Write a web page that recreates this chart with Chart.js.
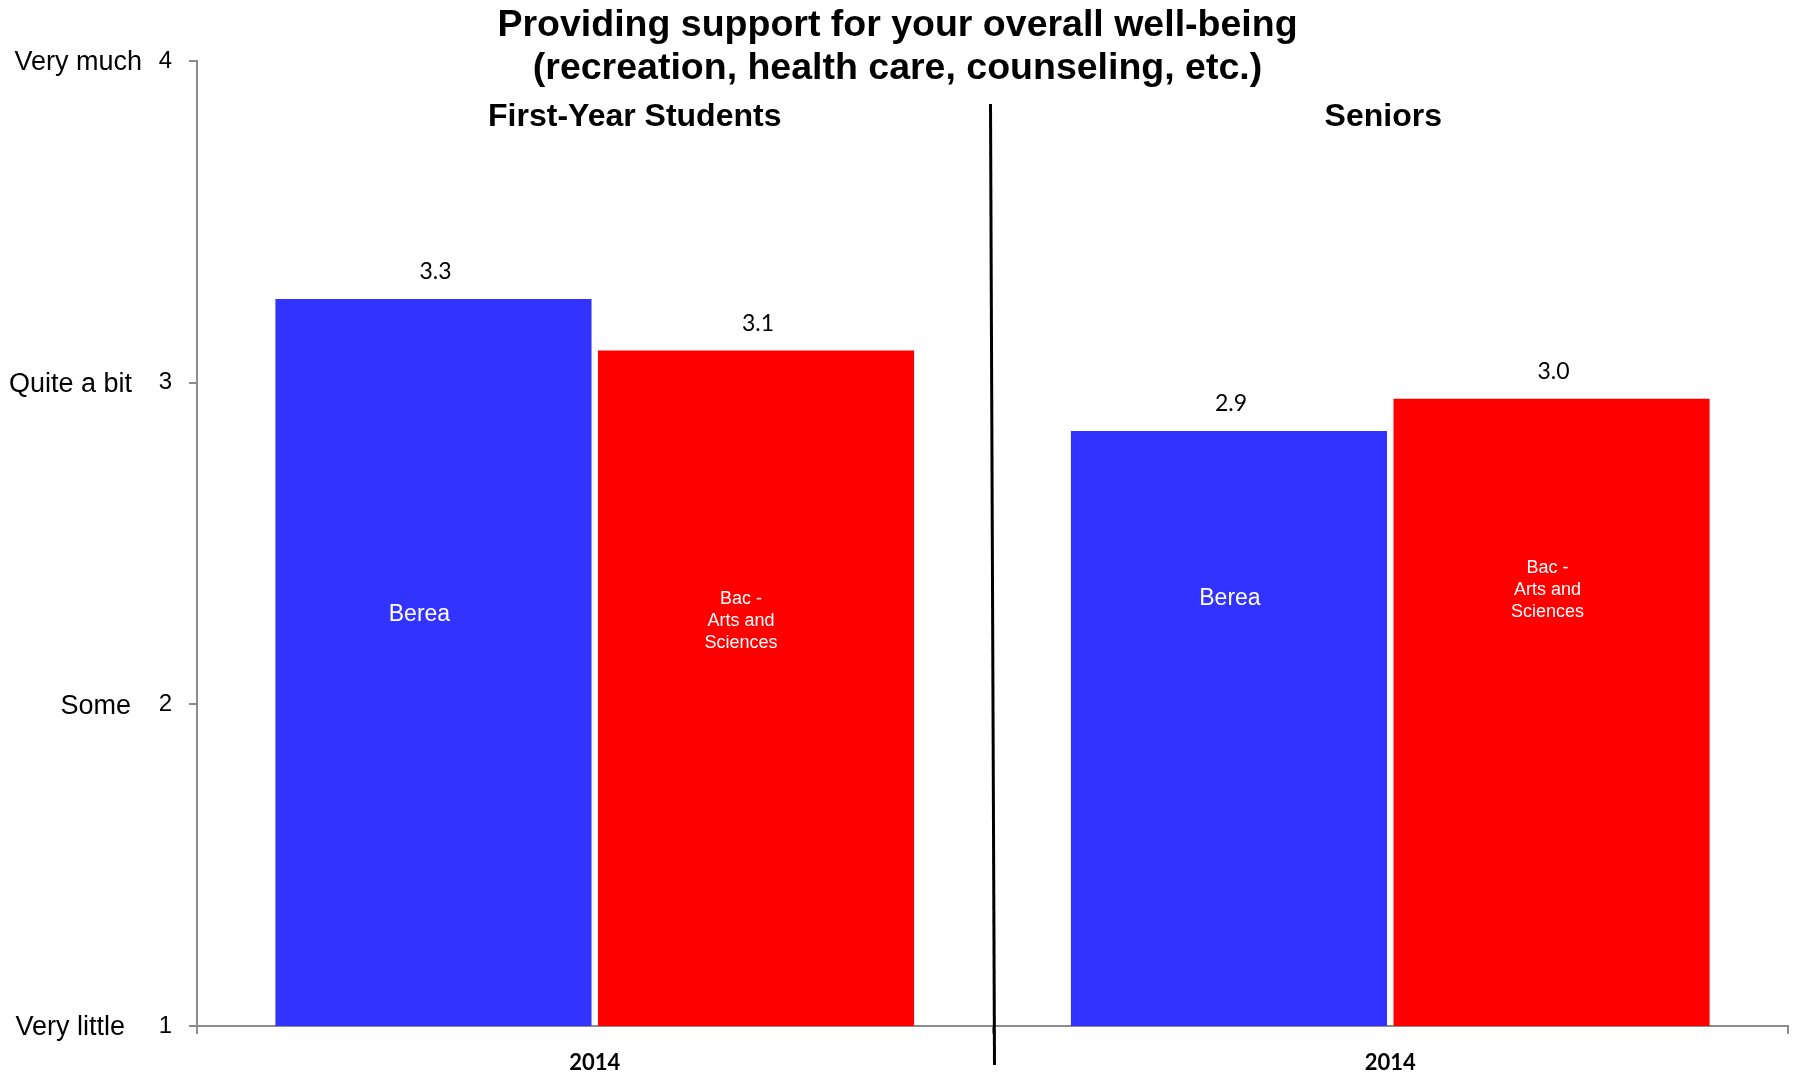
<!DOCTYPE html>
<html>
<head>
<meta charset="utf-8">
<script src="https://cdn.jsdelivr.net/npm/chart.js@4.4.0/dist/chart.umd.min.js"></script>
<style>
  html, body { margin: 0; padding: 0; background: #fff; }
  #wrap { width: 1795px; height: 1074px; }
</style>
</head>
<body>
<div id="wrap"><canvas id="myChart" width="1795" height="1074"></canvas></div>
<script>
// chart data
const groups = ["First-Year Students", "Seniors"];
const years = ["2014", "2014"];
const bereaValues = [3.26, 2.85];
const bacValues = [3.10, 2.95];
const bereaName = ["Berea"];
const bacName = ["Bac -", "Arts and", "Sciences"];
const yTicks = [1, 2, 3, 4];
const yTickWords = ["Very little", "Some", "Quite a bit", "Very much"];
const titleLines = [
  "Providing support for your overall well-being",
  "(recreation, health care, counseling, etc.)"
];

// look of the labels (not data)
const axisGray = "#8c8c8c";
const headerShift = [40, -7];            // px from category centre
const nameShiftX = [[-14, -15], [1, -4]]; // [group][series]
const nameLevel = [[2.28, 2.26], [2.33, 2.355]];
const wordRight = [125, 131, 132, 142];   // right edge of the y words

// Draws the titles, value labels, names in bars and the divider
const extras = {
  id: "extras",
  afterDatasetsDraw(chart) {
    const ctx = chart.ctx;
    const xs = chart.scales.x;
    const ys = chart.scales.y;
    ctx.save();
    ctx.textAlign = "center";
    ctx.textBaseline = "middle";

    // values above the bars
    ctx.fillStyle = "#000";
    ctx.font = "23px Lato";
    chart.data.datasets.forEach((ds, i) => {
      chart.getDatasetMeta(i).data.forEach((bar, j) => {
        ctx.fillText(ds.data[j].toFixed(1), bar.x + 2, bar.y - 27);
      });
    });

    // series names inside the bars
    ctx.fillStyle = "#fff";
    chart.data.datasets.forEach((ds, i) => {
      const lines = ds.insideName;
      const size = lines.length > 1 ? 18 : 23;
      const lh = 22;
      ctx.font = size + "px 'Liberation Sans', Arial";
      chart.getDatasetMeta(i).data.forEach((bar, j) => {
        const cy = ys.getPixelForValue(nameLevel[j][i]);
        lines.forEach((t, k) => {
          ctx.fillText(t, bar.x + nameShiftX[j][i], cy + (k - (lines.length - 1) / 2) * lh);
        });
      });
    });

    // divider between the two groups
    const mid = (xs.getPixelForValue(0) + xs.getPixelForValue(1)) / 2;
    ctx.strokeStyle = "#000";
    ctx.lineWidth = 3;
    ctx.beginPath();
    ctx.moveTo(mid - 2, 104);
    ctx.lineTo(mid + 2, 1065);
    ctx.stroke();

    // group headers
    ctx.fillStyle = "#000";
    ctx.font = "bold 32px 'Liberation Sans', Arial";
    groups.forEach((g, i) => {
      ctx.fillText(g, xs.getPixelForValue(i) + headerShift[i], 117);
    });

    // main title
    ctx.font = "bold 37.5px 'Liberation Sans', Arial";
    titleLines.forEach((t, i) => {
      ctx.fillText(t, chart.width / 2, 26 + i * 43);
    });

    // words next to the y ticks
    ctx.textAlign = "right";
    ctx.font = "27px 'Liberation Sans', Arial";
    yTicks.forEach((v, i) => {
      ctx.fillText(yTickWords[i], wordRight[i], ys.getPixelForValue(v) + 2);
    });

    ctx.restore();
  }
};

const ctx = document.getElementById("myChart").getContext("2d");

new Chart(ctx, {
  type: "bar",
  data: {
    labels: years,
    datasets: [
      {
        label: "Berea",
        data: bereaValues,
        insideName: bereaName,
        backgroundColor: "#3333ff",
        categoryPercentage: 0.811,
        barPercentage: 0.98
      },
      {
        label: "Bac - Arts and Sciences",
        data: bacValues,
        insideName: bacName,
        backgroundColor: "#ff0000",
        categoryPercentage: 0.811,
        barPercentage: 0.98
      }
    ]
  },
  options: {
    responsive: false,
    animation: false,
    layout: { padding: { top: 61, right: 7, left: 0, bottom: 0 } },
    plugins: {
      legend: { display: false },
      title: { display: false },
      tooltip: { enabled: false }
    },
    scales: {
      x: {
        afterFit: (s) => { s.height = 48; },
        grid: {
          drawOnChartArea: false,
          color: axisGray,
          tickLength: 8,
          lineWidth: 2
        },
        border: { color: axisGray, width: 2 },
        ticks: {
          color: "#000",
          padding: 16,
          font: { family: "Lato", size: 22, weight: "bold" }
        }
      },
      y: {
        min: 1,
        max: 4,
        afterFit: (s) => { s.width = 197; },
        afterBuildTicks: (s) => { s.ticks = yTicks.map((v) => ({ value: v })); },
        grid: {
          drawOnChartArea: false,
          color: axisGray,
          tickLength: 8,
          lineWidth: 2
        },
        border: { color: axisGray, width: 2 },
        ticks: {
          color: "#000",
          padding: 17,
          font: { family: "'Liberation Sans', Arial", size: 24 }
        }
      }
    }
  },
  plugins: [extras]
});
</script>
</body>
</html>
